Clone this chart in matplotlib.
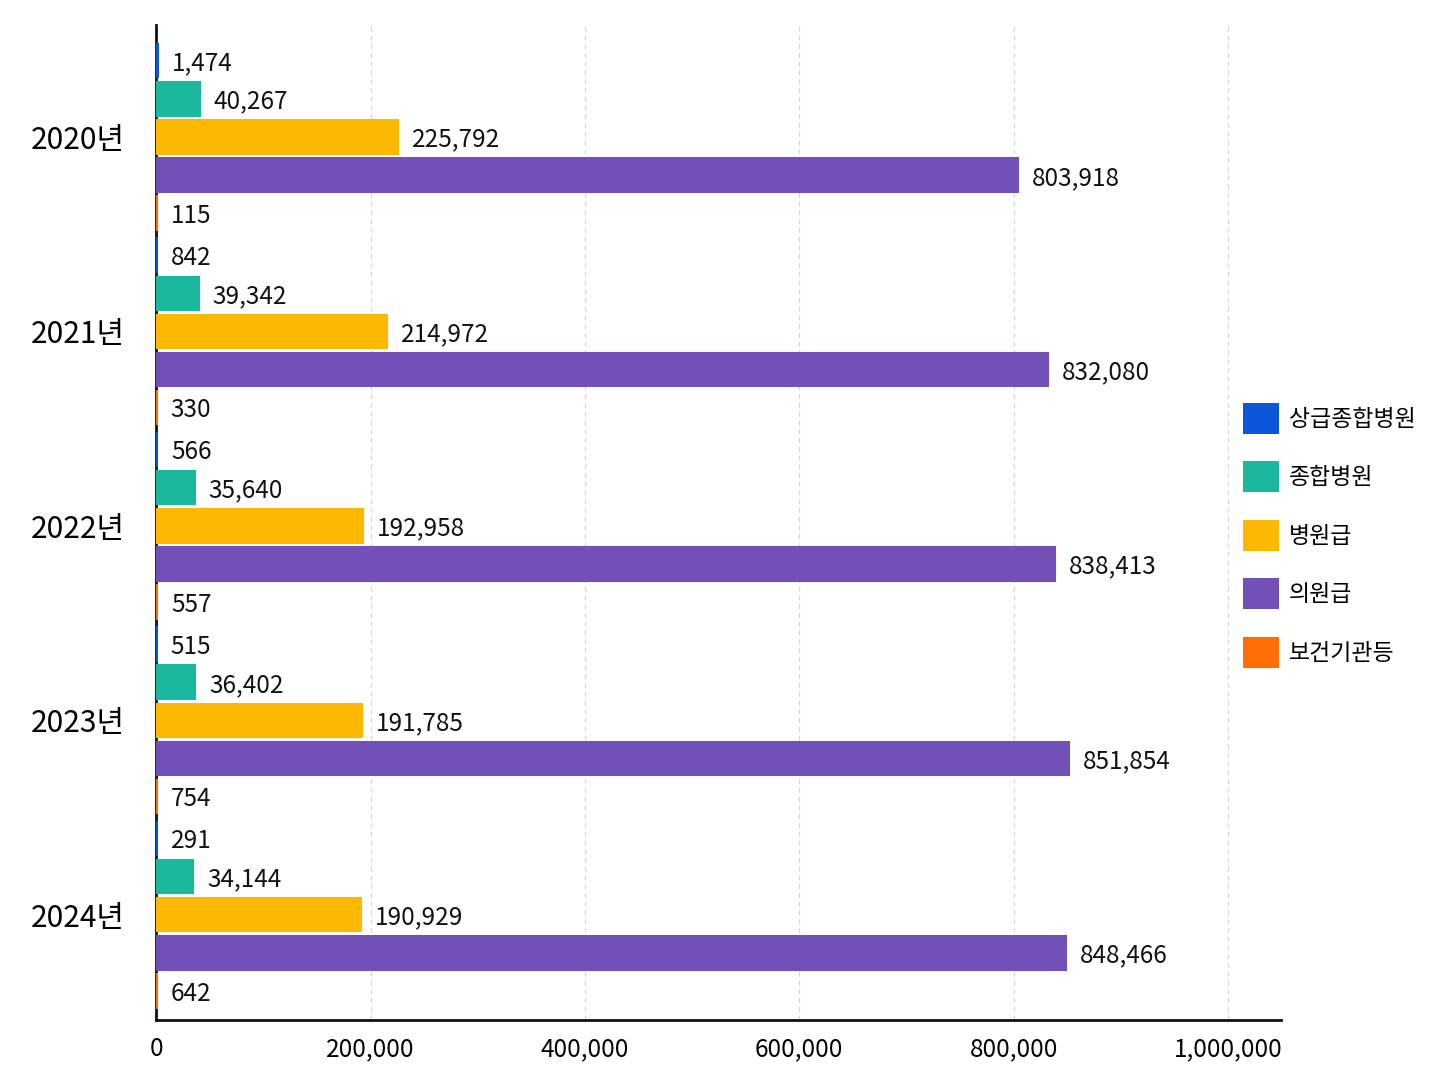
import matplotlib

matplotlib.use("Agg")
import matplotlib.pyplot as plt
import numpy as np
from matplotlib.patches import Patch

plt.rcParams["font.family"] = ["Noto Sans CJK KR", "DejaVu Sans"]
plt.rcParams["font.weight"] = "medium"

years = ["2020년", "2021년", "2022년", "2023년", "2024년"]
series_names = ["상급종합병원", "종합병원", "병원급", "의원급", "보건기관등"]
colors = ["#0B57D8", "#1CB89D", "#FDB902", "#7150B8", "#FF6D05"]

sanggeup = [1474, 842, 566, 515, 291]
jonghap = [40267, 39342, 35640, 36402, 34144]
byeongwon = [225792, 214972, 192958, 191785, 190929]
uiwon = [803918, 832080, 838413, 851854, 848466]
bogeon = [115, 330, 557, 754, 642]
series = [sanggeup, jonghap, byeongwon, uiwon, bogeon]

fig = plt.figure(figsize=(14.48, 10.86), dpi=100)
ax = fig.add_axes([0.108, 0.061, 0.777, 0.916])

slot = 0.196
bar_h = 0.172
base = np.arange(len(years))
for j, (vals, col) in enumerate(zip(series, colors)):
    ys = base + (j - 2) * slot
    # thin edge so the tiny bars still show as a sliver, like the original
    ax.barh(ys, vals, height=bar_h, color=col, edgecolor=col, lw=1.5, zorder=3)
    for y, v in zip(ys, vals):
        ax.annotate(f"{v:,}", xy=(v, y), xytext=(10, -2), textcoords="offset points",
                    ha="left", va="center", fontsize=17.5, color="#111")

ax.set_xlim(0, 1050000)
ax.set_ylim(4.54, -0.576)
ax.set_xticks([0, 200000, 400000, 600000, 800000, 1000000])
ax.set_xticklabels(["0", "200,000", "400,000", "600,000", "800,000", "1,000,000"], fontsize=17.5)
ax.set_yticks(base)
ax.set_yticklabels(years, fontsize=21.5)
ax.tick_params(axis="both", length=0)
ax.tick_params(axis="y", pad=23)
ax.tick_params(axis="x", pad=12)
ax.grid(axis="x", color="#d8d8d8", ls=(0, (4, 3)), lw=0.9, zorder=0)
for s in ["top", "right"]:
    ax.spines[s].set_visible(False)
for s in ["left", "bottom"]:
    ax.spines[s].set_linewidth(2)
    ax.spines[s].set_color("#111")

handles = [Patch(facecolor=c, label=n) for n, c in zip(series_names, colors)]
fig.legend(handles=handles, loc="center left", bbox_to_anchor=(0.844, 0.507),
           frameon=False, fontsize=16.5, handlelength=1.6, handleheight=1.7,
           labelspacing=1.2, handletextpad=0.4)

fig.savefig("out.png", dpi=100)
